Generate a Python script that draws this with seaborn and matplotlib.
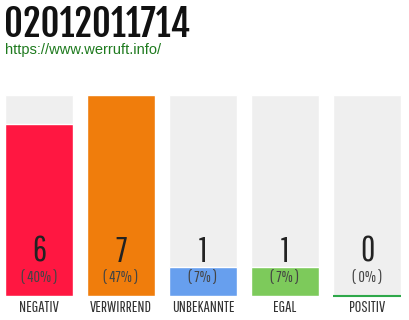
import matplotlib
matplotlib.use("Agg")
import matplotlib.pyplot as plt
import seaborn as sns
import pandas as pd

categories = ["NEGATIV", "VERWIRREND", "UNBEKANNTE", "EGAL", "POSITIV"]
counts = [6, 7, 1, 1, 0]
percent_labels = ["( 40% )", "( 47% )", "( 7% )", "( 7% )", "( 0% )"]
colors = ["#FF1741", "#F07D0C", "#679FEE", "#7DCA5B", "#7DCA5B"]
title = "02012011714"
url = "https://www.werruft.info/"

sns.set_theme(style="white")
thin = ["Pathway Gothic One", "DejaVu Sans"]
plt.rcParams["font.family"] = thin

df = pd.DataFrame({"cat": categories, "count": counts})
df["bg"] = max(counts)

fig = plt.figure(figsize=(4.1, 3.2), dpi=100)
ax = fig.add_axes([-2 / 410, 24 / 320, 1.0, 201 / 320])

sns.barplot(data=df, x="cat", y="bg", color="#EFEFEF", width=68 / 82,
            saturation=1, ax=ax, zorder=1)
sns.barplot(data=df, x="cat", y="count", hue="cat", palette=colors,
            width=68 / 82, saturation=1, legend=False, ax=ax, zorder=2)

ax.set_xlim(-0.5, len(categories) - 0.5)
ax.set_ylim(0, max(counts))
ax.axis("off")

# zero-valued bars get a thin green baseline
bars = ax.patches[len(categories):]
for i, (b, v) in enumerate(zip(bars, counts)):
    if v == 0:
        ax.plot([b.get_x(), b.get_x() + b.get_width()], [0, 0],
                color="#2EA84A", lw=1.5, zorder=3, solid_capstyle="butt",
                clip_on=False)

tr = ax.get_xaxis_transform()
for i, (v, p, c) in enumerate(zip(counts, percent_labels, categories)):
    ax.text(i, 0.222, str(v), transform=tr, ha="center", va="center",
            fontsize=25, color="#222222")
    ax.text(i, 0.094, p, transform=tr, ha="center", va="center",
            fontsize=11.5, color="#444444")
    ax.text(i, -0.056, c, transform=tr, ha="center", va="center",
            fontsize=11.5, color="#333333")

fig.text(4 / 410, 1 - 37 / 320, title, ha="left", va="baseline",
         fontsize=26.5, color="#111111", family=["Fjalla One", "DejaVu Sans"])
fig.text(5 / 410, 1 - 54 / 320, url, ha="left", va="baseline",
         fontsize=10.5, color="#1E7A1E", family=["Liberation Sans", "DejaVu Sans"])

fig.savefig("out.png", dpi=100)
